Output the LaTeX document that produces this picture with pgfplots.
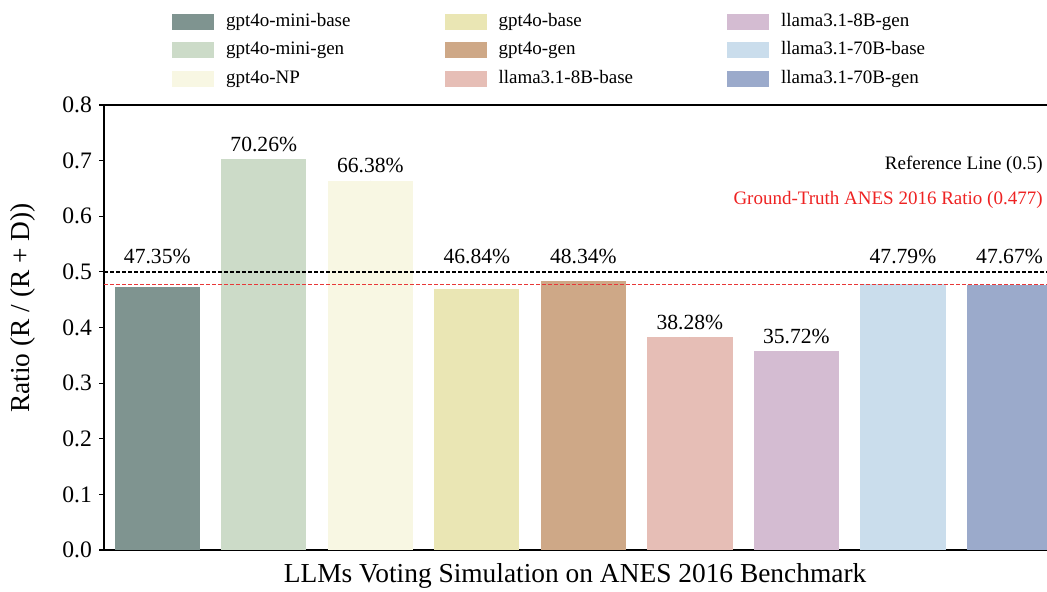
\documentclass[border=0pt]{standalone}
\usepackage{fontspec}
\setmainfont{Liberation Serif}
\usepackage{pgfplots}
\pgfplotsset{compat=1.18}
\usetikzlibrary{calc}
\definecolor{c1}{HTML}{7F9490}
\definecolor{c2}{HTML}{CCDBC8}
\definecolor{c3}{HTML}{F8F7E3}
\definecolor{c4}{HTML}{EAE6B4}
\definecolor{c5}{HTML}{CEA887}
\definecolor{c6}{HTML}{E6BEB6}
\definecolor{c7}{HTML}{D4BCD2}
\definecolor{c8}{HTML}{CADDEC}
\definecolor{c9}{HTML}{9BAACB}
\definecolor{gtred}{HTML}{EE2222}
\definecolor{gtline}{HTML}{E83838}
\begin{document}
\begin{tikzpicture}
\begin{axis}[
  name=ax,
  scale only axis,
  width=479.375pt, height=222.5pt,
  xmin=-0.5, xmax=8.5, ymin=0, ymax=0.8,
  xtick=\empty,
  ytick={0,0.1,0.2,0.3,0.4,0.5,0.6,0.7,0.8},
  /pgf/number format/assume math mode=true,
  yticklabel style={/pgf/number format/fixed, /pgf/number format/precision=1, /pgf/number format/fixed zerofill, font=\fontsize{11.8}{13}\selectfont},
  tick align=outside, major tick length=2.5pt,
  ytick style={black, line width=0.6pt},
  axis line style={black, line width=0.6pt},
  xlabel={LLMs Voting Simulation on ANES 2016 Benchmark},
  ylabel={Ratio (R / (R + D))},
  xlabel style={at={(axis description cs:0.4913,-0.0720)}, anchor=base, font=\fontsize{13.7}{16}\selectfont},
  ylabel style={at={(axis description cs:-0.0845,0.5438)}, anchor=center, font=\fontsize{13.7}{16}\selectfont},
  legend columns=3, transpose legend, legend cell align=left,
  legend style={at={(0.07093,1.2067)}, anchor=north west, draw=none, fill=none, inner sep=0pt, outer sep=0pt,
    font=\fontsize{9.5}{11}\selectfont, row sep=5.75pt,
    nodes={inner sep=0pt, text height=6.5pt, text depth=2pt},
    /tikz/every odd column/.append style={column sep=6pt},
    /tikz/every even column/.append style={column sep=47pt}},
  legend image code/.code={\fill[#1] (0pt,-4pt) rectangle (21pt,4pt);},
]
\addplot[ybar, bar width=0.8, bar shift=0pt, fill=c1, draw=none] coordinates {(0,0.4735)};
\addlegendentry{gpt4o-mini-base}
\addplot[ybar, bar width=0.8, bar shift=0pt, fill=c2, draw=none] coordinates {(1,0.7026)};
\addlegendentry{gpt4o-mini-gen}
\addplot[ybar, bar width=0.8, bar shift=0pt, fill=c3, draw=none] coordinates {(2,0.6638)};
\addlegendentry{gpt4o-NP}
\addplot[ybar, bar width=0.8, bar shift=0pt, fill=c4, draw=none] coordinates {(3,0.4684)};
\addlegendentry{gpt4o-base}
\addplot[ybar, bar width=0.8, bar shift=0pt, fill=c5, draw=none] coordinates {(4,0.4834)};
\addlegendentry{gpt4o-gen}
\addplot[ybar, bar width=0.8, bar shift=0pt, fill=c6, draw=none] coordinates {(5,0.3828)};
\addlegendentry{llama3.1-8B-base}
\addplot[ybar, bar width=0.8, bar shift=0pt, fill=c7, draw=none] coordinates {(6,0.3572)};
\addlegendentry{llama3.1-8B-gen}
\addplot[ybar, bar width=0.8, bar shift=0pt, fill=c8, draw=none] coordinates {(7,0.4779)};
\addlegendentry{llama3.1-70B-base}
\addplot[ybar, bar width=0.8, bar shift=0pt, fill=c9, draw=none] coordinates {(8,0.4767)};
\addlegendentry{llama3.1-70B-gen}

\addplot[forget plot, black, line width=0.65pt, dash pattern=on 2pt off 1pt] coordinates {(-0.5,0.5) (8.5,0.5)};
\addplot[forget plot, gtline, line width=0.75pt, dash pattern=on 2pt off 1pt] coordinates {(-0.5,0.477) (8.5,0.477)};

\addplot[forget plot, only marks, mark=*, mark size=0pt, mark options={draw=none, fill=none},
  nodes near coords, point meta=explicit symbolic,
  nodes near coords style={anchor=base, yshift=4pt, inner sep=0pt, font=\fontsize{10.8}{12}\selectfont, text=black}]
  coordinates {(0,0.5)[47.35\%] (1,0.7026)[70.26\%] (2,0.6638)[66.38\%] (3,0.5)[46.84\%] (4,0.5)[48.34\%] (5,0.3828)[38.28\%] (6,0.3572)[35.72\%] (7,0.5)[47.79\%] (8,0.5)[47.67\%]};

\node[anchor=east, inner sep=0pt, font=\fontsize{9.5}{11}\selectfont] at (rel axis cs:0.9794,0.8652) {Reference Line (0.5)};
\node[anchor=east, inner sep=0pt, text=gtred, font=\fontsize{9.5}{11}\selectfont] at (rel axis cs:0.9794,0.7865) {Ground-Truth ANES 2016 Ratio (0.477)};
\end{axis}
\pgfresetboundingbox
\path[use as bounding box] ($(ax.south west)+(-52pt,-20.5pt)$) rectangle ($(ax.south west)+(471.5pt,275pt)$);
\end{tikzpicture}
\end{document}
